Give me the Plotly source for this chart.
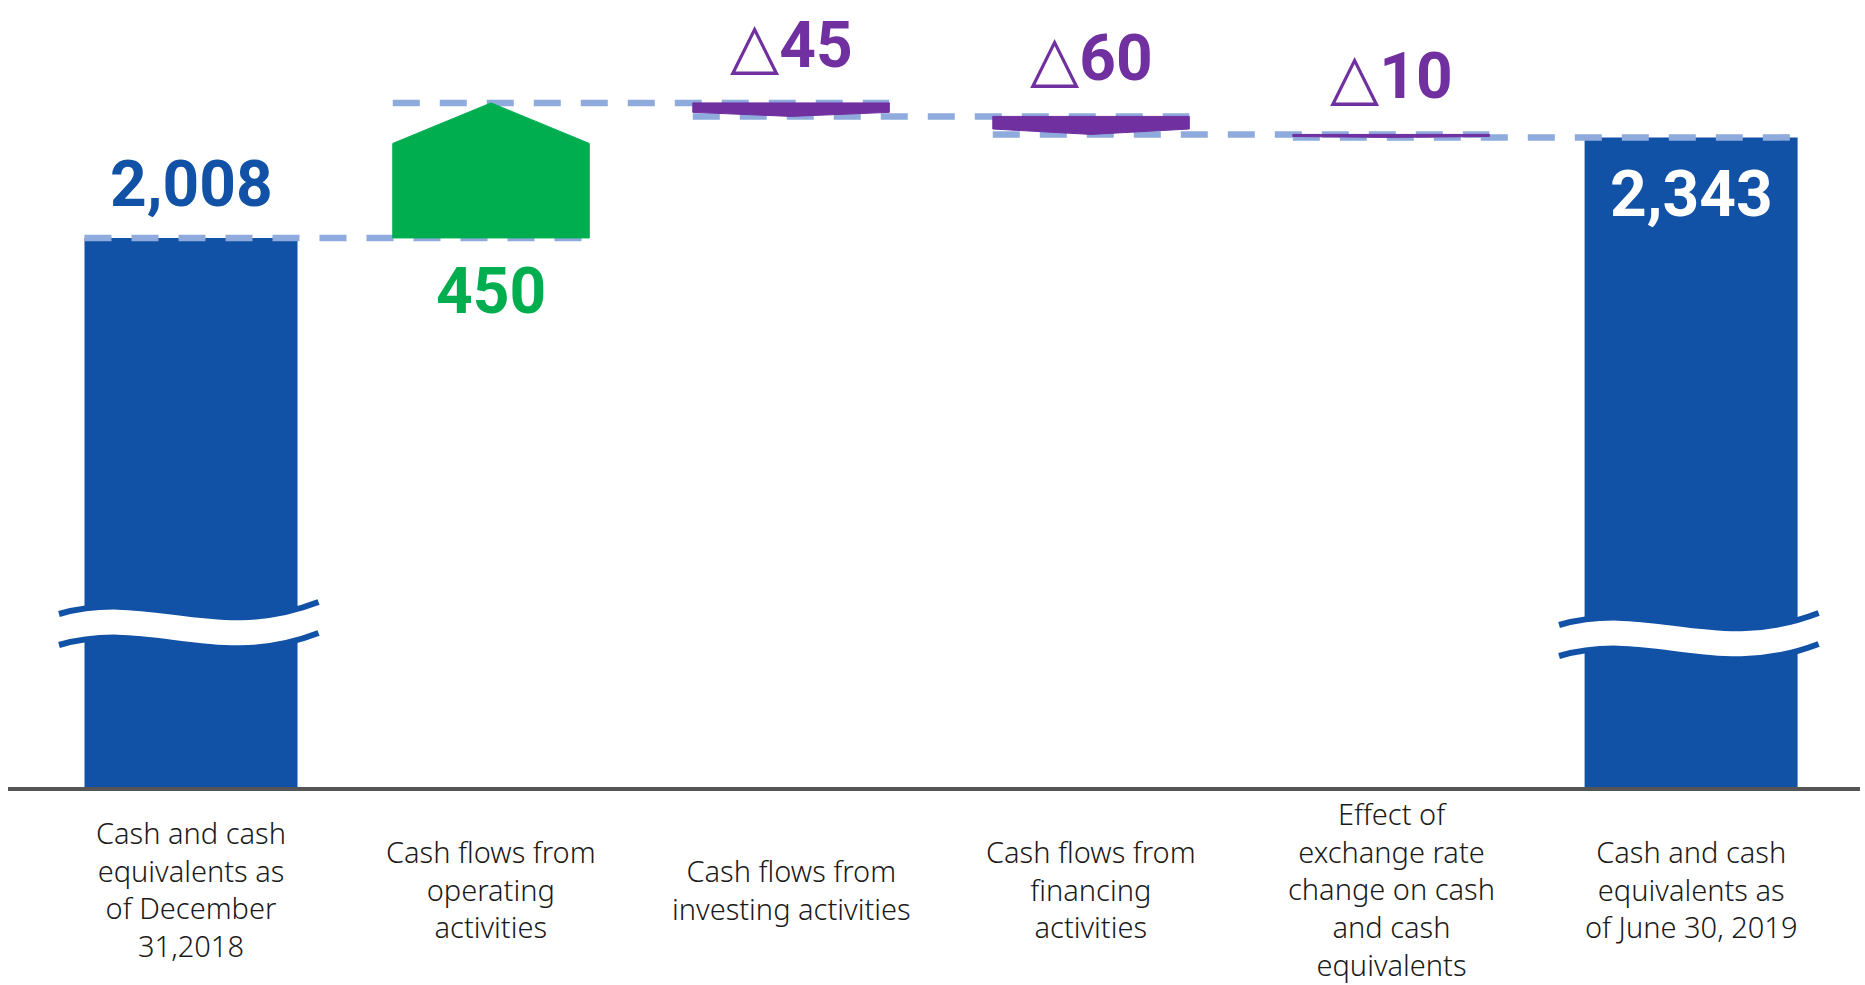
import plotly.graph_objects as go

# ---------------- data ----------------
categories = [
    "Cash and cash<br>equivalents as<br>of December<br>31,2018",
    "Cash flows from<br>operating<br>activities",
    "Cash flows from<br>investing activities",
    "Cash flows from<br>financing<br>activities",
    "Effect of<br>exchange rate<br>change on cash<br>and cash<br>equivalents",
    "Cash and cash<br>equivalents as<br>of June 30, 2019",
]
kinds = ["total", "delta", "delta", "delta", "delta", "total"]
values = [2008, 450, -45, -60, -10, 2343]
value_labels = ["2,008", "450", "△45", "△60", "△10", "2,343"]

# ---------------- style ----------------
BLUE = "#1151A6"
GREEN = "#00AE50"
PURPLE = "#7030A0"
DASH = "#8FAADC"
W_TOTAL = 0.71
W_DELTA = 0.655
TIP = 0.3
PLOT_H = 787          # plot area height (px)
Y_RANGE = [178, 2801]
X_RANGE = [-0.61, 5.563]

fig = go.Figure()

# running levels
starts, ends = [], []
run = 0
for k, v in zip(kinds, values):
    if k == "total":
        starts.append(0)
        ends.append(v)
        run = v
    else:
        starts.append(run)
        run = run + v
        ends.append(run)

widths = [W_TOTAL if k == "total" else W_DELTA for k in kinds]

# total bars
for i, k in enumerate(kinds):
    if k == "total":
        fig.add_trace(go.Bar(x=[i], y=[values[i]], width=[widths[i]],
                             marker=dict(color=BLUE, line=dict(width=0)),
                             hoverinfo="skip"))

# dashed connectors
for i in range(len(values) - 1):
    lvl = ends[i]
    x0 = i - widths[i] / 2
    x1 = i + 1 + widths[i + 1] / 2
    fig.add_trace(go.Scatter(x=[x0, x1], y=[lvl, lvl], mode="lines",
                             line=dict(color=DASH, width=6.5, dash="27px,20px"),
                             hoverinfo="skip"))

# arrow shapes for deltas
for i, k in enumerate(kinds):
    if k != "delta":
        continue
    s, e = starts[i], ends[i]
    sh = e - TIP * (e - s)
    hw = widths[i] / 2
    col = GREEN if values[i] > 0 else PURPLE
    xs = [i - hw, i - hw, i, i + hw, i + hw, i - hw]
    ys = [s, sh, e, sh, s, s]
    fig.add_trace(go.Scatter(x=xs, y=ys, mode="lines", fill="toself",
                             fillcolor=col, line=dict(color=col, width=1),
                             hoverinfo="skip"))

# value labels
val_font = dict(family="Roboto, DejaVu Sans", size=64)
for i, k in enumerate(kinds):
    txt = value_labels[i]
    if txt.startswith("△"):
        txt = "△<b>" + txt[1:] + "</b>"
    else:
        txt = "<b>" + txt + "</b>"
    if k == "total" and i == 0:
        fig.add_annotation(x=i, y=ends[i], text=txt, showarrow=False,
                           yanchor="bottom", yshift=14,
                           font=dict(val_font, color=BLUE))
    elif k == "total":
        fig.add_annotation(x=i, y=ends[i], text=txt, showarrow=False,
                           yanchor="top", yshift=-18,
                           font=dict(val_font, color="white"))
    elif values[i] > 0:
        fig.add_annotation(x=i, y=starts[i], text=txt, showarrow=False,
                           yanchor="top", yshift=-14,
                           font=dict(val_font, color=GREEN))
    else:
        fig.add_annotation(x=i, y=starts[i], text=txt, showarrow=False,
                           yanchor="bottom", yshift=18,
                           font=dict(val_font, color=PURPLE))

# category labels (vertically centred under the axis)
for i, c in enumerate(categories):
    fig.add_annotation(x=i, y=-(889 - PLOT_H) / PLOT_H, yref="paper",
                       text=c, showarrow=False, yanchor="middle",
                       align="center",
                       font=dict(family="Noto Sans", size=29, weight=300,
                                 color="#1a1a1a"))

# axis-break squiggles on the total bars
def yp(px):
    return (PLOT_H - px) / PLOT_H

def wave_pts(x0, x1, ypx):
    w = x1 - x0
    return [(x0, ypx), (x0 + 0.35 * w, ypx - 26), (x0 + 0.6 * w, ypx + 28), (x1, ypx - 12)]

break_px = {0: 614, 5: 625}
for i, top in break_px.items():
    x0 = i - widths[i] / 2 - 0.085
    x1 = i + widths[i] / 2 + 0.07
    up = wave_pts(x0, x1, top)
    lo = wave_pts(x0, x1, top + 31)
    band = (f"M {up[0][0]},{yp(up[0][1])} C {up[1][0]},{yp(up[1][1])} {up[2][0]},{yp(up[2][1])} {up[3][0]},{yp(up[3][1])} "
            f"L {lo[3][0]},{yp(lo[3][1])} C {lo[2][0]},{yp(lo[2][1])} {lo[1][0]},{yp(lo[1][1])} {lo[0][0]},{yp(lo[0][1])} Z")
    fig.add_shape(type="path", path=band, xref="x", yref="paper",
                  fillcolor="white", line=dict(width=0))
    for pts in (up, lo):
        p = (f"M {pts[0][0]},{yp(pts[0][1])} C {pts[1][0]},{yp(pts[1][1])} "
             f"{pts[2][0]},{yp(pts[2][1])} {pts[3][0]},{yp(pts[3][1])}")
        fig.add_shape(type="path", path=p, xref="x", yref="paper",
                      fillcolor="rgba(0,0,0,0)", line=dict(color=BLUE, width=6))

fig.update_layout(
    width=1865, height=985,
    margin=dict(l=8, r=5, t=0, b=985 - PLOT_H),
    paper_bgcolor="white", plot_bgcolor="white",
    showlegend=False, barmode="overlay",
    xaxis=dict(range=X_RANGE, showline=True, linecolor="#555555", linewidth=4,
               showticklabels=False, ticks="", showgrid=False, zeroline=False,
               fixedrange=True),
    yaxis=dict(range=Y_RANGE, visible=False, showgrid=False, zeroline=False,
               fixedrange=True),
)

fig.write_html("out.html")
